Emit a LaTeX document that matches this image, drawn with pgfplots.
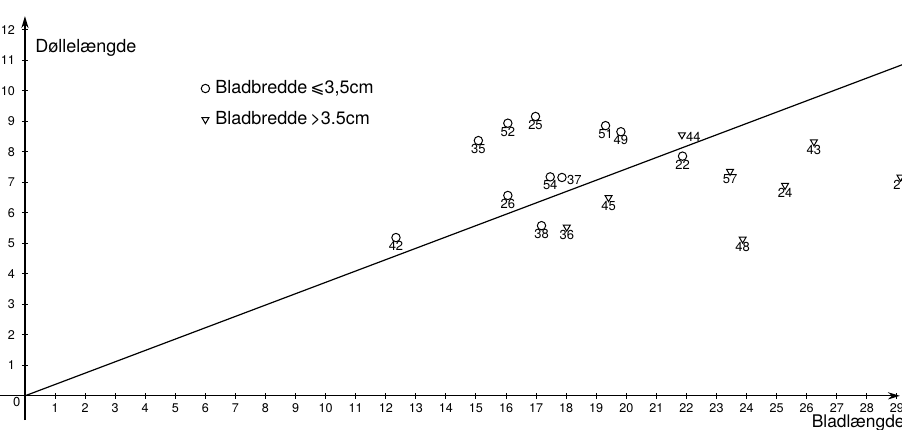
\documentclass[border=0pt]{standalone}
\usepackage{fontspec}
\setmainfont{TeX Gyre Heros}
\newfontfamily\dejavu{DejaVu Sans}
\usepackage{pgfplots}
\usepackage{pgfplotstable}
\pgfplotsset{compat=1.18}
\usetikzlibrary{arrows.meta}

\pgfplotstableread{
x y lab
12.34 5.19 42
15.08 8.37 35
16.06 8.94 52
16.98 9.16 25
19.31 8.86 51
19.82 8.66 49
17.47 7.18 54
16.06 6.57 26
17.18 5.58 38
21.87 7.86 22
}\circbelow
\pgfplotstableread{
x y lab
17.86 7.16 37
}\circright
\pgfplotstableread{
x y lab
18.02 5.53 36
19.41 6.50 45
23.45 7.36 57
25.28 6.90 24
26.24 8.33 43
23.87 5.14 48
29.12 7.17 27
}\tribelow
\pgfplotstableread{
x y lab
21.85 8.56 44
}\triright

\begin{document}
\begin{tikzpicture}
\begin{axis}[
  x=15.035pt, y=15.25pt,
  xmin=-0.83, xmax=29.1, ymin=-0.8, ymax=12.45,
  axis lines=middle,
  axis line style={line width=0.6pt,-{Stealth[length=6pt,width=3.6pt]}},
  clip=false,
  xtick={1,...,29}, ytick={1,...,12},
  tick style={line width=0.5pt,black},
  major tick length=3pt,
  tick align=center,
  /pgf/number format/assume math mode=true,
  tick label style={font=\fontsize{6.3}{7}\selectfont},
  xticklabel style={yshift=-1.3pt, inner sep=1pt},
  legend style={at={(axis cs:5.80,10.42)}, anchor=north west, draw=none, fill=none,
    font=\fontsize{9}{10}\selectfont, row sep=5.5pt, inner sep=0pt,
    nodes={inner sep=1pt}},
  legend cell align=left,
  legend image code/.code={\draw[#1] plot coordinates {(0.1cm,0cm)}; \path[draw=none,fill=none] (0cm,0cm) -- (0.24cm,0cm);},
  point meta=explicit symbolic,
]
\addplot[only marks, mark=o, mark size=2.1pt, mark options={line width=0.5pt},
  nodes near coords,
  every node near coord/.append style={anchor=north, yshift=-1.6pt, inner sep=0pt, font=\fontsize{6.5}{7}\selectfont}]
  table[meta=lab] {\circbelow};
\addplot[only marks, mark=triangle, mark size=2pt, mark options={rotate=180, line width=0.5pt},
  nodes near coords,
  every node near coord/.append style={anchor=north, yshift=-1.4pt, inner sep=0pt, font=\fontsize{6.5}{7}\selectfont}]
  table[meta=lab] {\tribelow};
\legend{{Bladbredde\,{\dejavu\fontsize{8.5}{10}\selectfont ⩽}3,5cm}, {Bladbredde\,>3.5cm}}
\addplot[forget plot, only marks, mark=o, mark size=2.1pt, mark options={line width=0.5pt},
  nodes near coords,
  every node near coord/.append style={anchor=west, xshift=2.3pt, yshift=-1.5pt, inner sep=0pt, font=\fontsize{6.5}{7}\selectfont}]
  table[meta=lab] {\circright};
\addplot[forget plot, only marks, mark=triangle, mark size=2pt, mark options={rotate=180, line width=0.5pt},
  nodes near coords,
  every node near coord/.append style={anchor=west, xshift=1.8pt, yshift=-1pt, inner sep=0pt, font=\fontsize{6.5}{7}\selectfont}]
  table[meta=lab] {\triright};
\addplot[forget plot, no marks, line width=0.6pt] coordinates {(0,0) (29.4,10.94)};
\node[anchor=center, font=\fontsize{6.5}{7}\selectfont] at (axis cs:-0.27,-0.2) {0};
\node[anchor=west, font=\fontsize{9}{10}\selectfont, inner sep=0pt] at (axis cs:0.33,11.41) {Døllelængde};
\node[anchor=east, font=\fontsize{8.7}{10}\selectfont, inner sep=0pt] at (axis cs:29.27,-0.88) {Bladlængde};
\coordinate (BL) at (axis cs:-0.83,-1.115);
\coordinate (TR) at (axis cs:29.17,12.98);
\end{axis}
\pgfresetboundingbox
\path[use as bounding box] (BL) rectangle (TR);
\end{tikzpicture}
\end{document}
